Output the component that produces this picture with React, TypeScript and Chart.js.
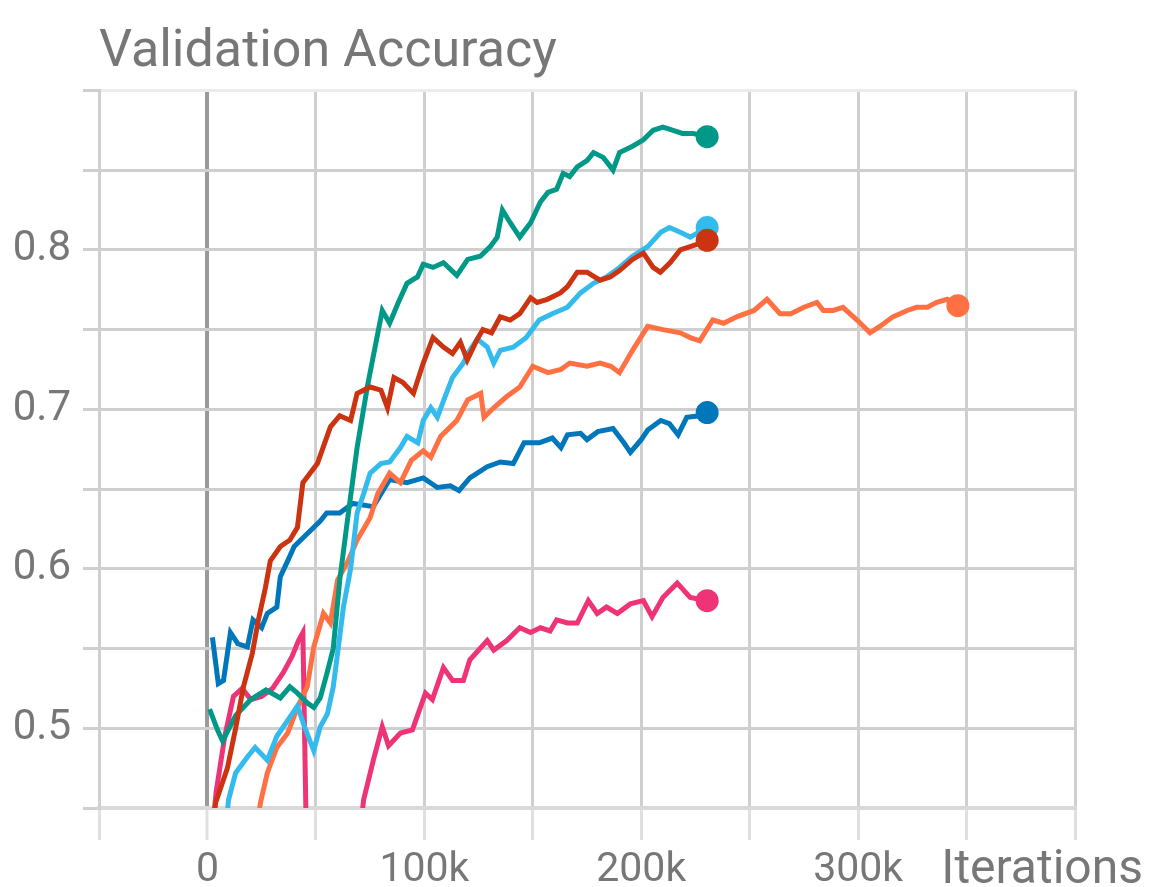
import { useEffect, useRef } from "react";
import { Chart, registerables } from "chart.js";

Chart.register(...registerables);

// ---- data (iterations in thousands, validation accuracy) ----
const xLabelTicks = [0, 100, 200, 300];
const yLabelTicks = [0.5, 0.6, 0.7, 0.8];

const tealSteps = [1, 4.6, 7, 13, 20, 27, 33.6, 38, 41.5, 46, 49, 52, 55, 58, 61, 64.5, 69, 73.7, 78, 80.6, 84, 88, 92, 96.8, 99.5, 104, 108.8, 115, 120, 125.8, 130.4, 133.6, 136, 139.6, 144, 149, 153.5, 157, 161, 164, 167, 170.5, 175, 178, 182.5, 187, 190, 196, 201, 205.5, 210, 214.7, 219, 224, 230.4];
const tealValues = [0.512, 0.499, 0.492, 0.508, 0.518, 0.524, 0.519, 0.526, 0.522, 0.516, 0.513, 0.519, 0.534, 0.55, 0.593, 0.63, 0.676, 0.714, 0.744, 0.762, 0.754, 0.767, 0.779, 0.783, 0.791, 0.789, 0.792, 0.784, 0.794, 0.796, 0.802, 0.808, 0.825, 0.817, 0.808, 0.817, 0.83, 0.836, 0.838, 0.848, 0.846, 0.852, 0.856, 0.861, 0.858, 0.85, 0.861, 0.865, 0.869, 0.875, 0.877, 0.875, 0.873, 0.873, 0.871];

const redSteps = [2, 3.7, 9.2, 13, 16.6, 20.7, 23.5, 26.7, 29, 33.6, 38, 41.5, 44, 50.7, 56.7, 61, 66, 69, 75, 80, 83, 86, 90, 95, 99.5, 104, 108.8, 113, 116.6, 119.8, 124.4, 127, 131, 135, 139.6, 144, 149, 152, 156.7, 162.7, 166, 170.5, 175, 181, 185.7, 190, 196, 201, 205.5, 208.8, 213.4, 218, 222.6, 227, 230.4];
const redValues = [0.43, 0.453, 0.475, 0.5, 0.526, 0.547, 0.568, 0.588, 0.605, 0.614, 0.618, 0.626, 0.654, 0.666, 0.689, 0.696, 0.693, 0.71, 0.714, 0.712, 0.701, 0.72, 0.717, 0.71, 0.729, 0.745, 0.739, 0.735, 0.742, 0.731, 0.744, 0.75, 0.748, 0.758, 0.756, 0.76, 0.77, 0.767, 0.769, 0.773, 0.777, 0.786, 0.786, 0.781, 0.783, 0.787, 0.794, 0.798, 0.789, 0.786, 0.792, 0.8, 0.802, 0.804, 0.806];

const cyanSteps = [8, 9.7, 13, 18.4, 22, 27.6, 32, 37, 41.5, 45, 49, 52, 55.3, 58, 60, 62.7, 66, 69, 72, 75, 80, 84, 89, 92, 97, 99.5, 103, 106, 109, 113, 118, 120, 124.4, 129, 132, 135, 141, 147, 153, 159, 166, 172, 178, 184, 190, 196, 203, 209, 213, 218, 222.6, 230.4];
const cyanValues = [0.43, 0.455, 0.472, 0.482, 0.488, 0.48, 0.495, 0.505, 0.514, 0.5, 0.486, 0.501, 0.509, 0.526, 0.547, 0.576, 0.6, 0.635, 0.647, 0.66, 0.666, 0.667, 0.676, 0.683, 0.679, 0.693, 0.701, 0.695, 0.706, 0.72, 0.729, 0.735, 0.744, 0.739, 0.729, 0.737, 0.739, 0.745, 0.756, 0.76, 0.764, 0.773, 0.779, 0.783, 0.789, 0.796, 0.802, 0.811, 0.814, 0.811, 0.808, 0.814];

const orangeSteps = [22, 24.4, 27.6, 32, 37, 41.5, 46, 49, 53.5, 56.7, 60, 64.5, 69, 75, 78.5, 84, 89, 94, 99.5, 103, 107.5, 112, 115, 120, 126, 127.5, 132, 138, 144, 150, 157, 163, 167, 175, 181, 186, 190, 196, 203, 210, 218, 222.6, 227, 233, 238, 244, 252, 258, 264, 269, 275, 281, 284, 288.5, 293, 299.5, 305.5, 310, 316, 322.6, 327, 332, 336, 341, 346];
const orangeValues = [0.43, 0.453, 0.472, 0.488, 0.497, 0.513, 0.526, 0.551, 0.572, 0.566, 0.593, 0.604, 0.618, 0.632, 0.647, 0.66, 0.654, 0.668, 0.674, 0.67, 0.683, 0.689, 0.693, 0.706, 0.71, 0.695, 0.701, 0.708, 0.714, 0.727, 0.723, 0.725, 0.729, 0.727, 0.729, 0.727, 0.723, 0.737, 0.752, 0.75, 0.748, 0.745, 0.743, 0.756, 0.754, 0.758, 0.762, 0.769, 0.76, 0.76, 0.764, 0.767, 0.762, 0.762, 0.764, 0.756, 0.748, 0.752, 0.758, 0.762, 0.764, 0.764, 0.767, 0.769, 0.765];

const blueSteps = [2.3, 5, 7.4, 10.6, 14, 18.4, 21, 25, 27.6, 32, 33.6, 37, 40, 46, 52, 55, 61, 67, 76.5, 84, 92, 99.5, 106, 112, 116, 121, 129, 135, 141, 146, 153, 159, 163, 166, 172, 175, 180, 187, 192, 195, 200, 203, 209, 213, 217, 221, 227, 230.4];
const blueValues = [0.557, 0.528, 0.53, 0.56, 0.553, 0.551, 0.568, 0.563, 0.572, 0.576, 0.595, 0.605, 0.614, 0.622, 0.63, 0.635, 0.635, 0.641, 0.639, 0.656, 0.654, 0.657, 0.651, 0.652, 0.649, 0.657, 0.664, 0.667, 0.666, 0.679, 0.679, 0.682, 0.676, 0.684, 0.685, 0.681, 0.686, 0.688, 0.679, 0.673, 0.681, 0.687, 0.693, 0.691, 0.684, 0.695, 0.696, 0.698];

const magentaSteps = [2, 4, 8, 12, 16, 20, 25, 30, 35, 39, 42, 44, 46, 58, 70, 72, 76.5, 80.6, 83.5, 89, 94.5, 100.5, 103.7, 108.8, 113, 118, 121, 129, 132, 138, 144, 149, 153.5, 158, 161, 166, 170.5, 175.6, 179.7, 184, 189, 195, 201, 205, 210, 216.6, 222.6, 230.4];
const magentaValues = [0.43, 0.46, 0.495, 0.52, 0.525, 0.518, 0.52, 0.525, 0.535, 0.545, 0.555, 0.56, 0.4, null, 0.43, 0.455, 0.48, 0.501, 0.489, 0.497, 0.499, 0.522, 0.518, 0.538, 0.53, 0.53, 0.543, 0.555, 0.549, 0.555, 0.563, 0.56, 0.563, 0.561, 0.568, 0.566, 0.566, 0.58, 0.572, 0.576, 0.572, 0.578, 0.58, 0.57, 0.582, 0.591, 0.582, 0.58];

const seriesNames = ["red", "teal", "cyan", "orange", "blue", "magenta"];
const seriesColors = ["#cc3311", "#009988", "#33bbee", "#ff7043", "#0077bb", "#ee3377"];
const seriesSteps = [redSteps, tealSteps, cyanSteps, orangeSteps, blueSteps, magentaSteps];
const seriesValues = [redValues, tealValues, cyanValues, orangeValues, blueValues, magentaValues];

const TEXT = "#777777";
const GRID = "#cfcfcf";

const iterationsLabel = {
  id: "iterationsLabel",
  afterDraw(chart: any) {
    const { ctx } = chart;
    ctx.save();
    ctx.font = "48px Roboto";
    ctx.fillStyle = TEXT;
    ctx.textAlign = "right";
    ctx.textBaseline = "alphabetic";
    ctx.fillText("Iterations", chart.width - 20, 883);
    ctx.restore();
  },
};

export default function App() {
  const canvasRef = useRef<HTMLCanvasElement | null>(null);

  useEffect(() => {
    if (!canvasRef.current) return;
    const datasets = seriesNames.map((name, i) => {
      const steps = seriesSteps[i];
      const vals = seriesValues[i];
      const last = steps.length - 1;
      return {
        label: name,
        data: steps.map((s, j) => ({ x: s, y: vals[j] })),
        borderColor: seriesColors[i],
        backgroundColor: seriesColors[i],
        pointBackgroundColor: seriesColors[i],
        borderWidth: 5,
        tension: 0,
        spanGaps: false,
        pointBorderWidth: 0,
        pointRadius: (c: any) => (c.dataIndex === last ? 11.5 : 0),
        pointHoverRadius: (c: any) => (c.dataIndex === last ? 11.5 : 0),
      };
    });

    const chart = new Chart(canvasRef.current, {
      type: "line",
      data: { datasets },
      options: {
        animation: false,
        responsive: false,
        maintainAspectRatio: false,
        devicePixelRatio: 1,
        layout: { padding: { left: 0, right: 88, top: 0, bottom: 0 } },
        plugins: {
          legend: { display: false },
          tooltip: { enabled: false },
          title: {
            display: true,
            text: "Validation Accuracy",
            align: "start",
            fullSize: false,
            color: TEXT,
            font: { family: "Roboto", size: 52, weight: "normal" },
            padding: { top: 22, bottom: 6 },
          },
        },
        scales: {
          x: {
            type: "linear",
            min: -50,
            max: 400,
            afterFit: (scale: any) => {
              scale.height = 79;
            },
            ticks: {
              stepSize: 50,
              autoSkip: false,
              maxRotation: 0,
              padding: 6,
              color: TEXT,
              font: { family: "Roboto", size: 41 },
              callback: (v: any) => {
                const n = Math.round(Number(v));
                if (!xLabelTicks.includes(n)) return "";
                return n === 0 ? "0" : `${n}k`;
              },
            },
            grid: {
              color: (c: any) => (c.tick && Math.round(c.tick.value) === 0 ? "#9a9a9a" : GRID),
              lineWidth: (c: any) => (c.tick && Math.round(c.tick.value) === 0 ? 4 : 3),
              tickColor: "#e0e0e0",
              tickLength: 32,
              tickWidth: 3,
            },
            border: { display: true, color: "#d9d9d9", width: 4 },
          },
          y: {
            type: "linear",
            min: 0.45,
            max: 0.9,
            afterFit: (scale: any) => {
              scale.width = 99;
            },
            ticks: {
              stepSize: 0.05,
              autoSkip: false,
              padding: 12,
              color: TEXT,
              font: { family: "Roboto", size: 42 },
              callback: (v: any) => {
                const r = Math.round(Number(v) * 100) / 100;
                return yLabelTicks.includes(r) ? r.toFixed(1) : "";
              },
            },
            grid: {
              color: (c: any) => (c.tick && Math.round(c.tick.value * 100) === 90 ? "#ebebeb" : GRID),
              lineWidth: 3,
              tickColor: GRID,
              tickLength: 16,
              tickWidth: 3,
            },
            border: { display: true, color: GRID, width: 3 },
          },
        },
      },
      plugins: [iterationsLabel],
    });
    return () => chart.destroy();
  }, []);

  return (
    <div style={{ position: "fixed", left: 0, top: 0, width: 1163, height: 887, background: "#fff" }}>
      <canvas ref={canvasRef} width={1163} height={887} />
    </div>
  );
}
